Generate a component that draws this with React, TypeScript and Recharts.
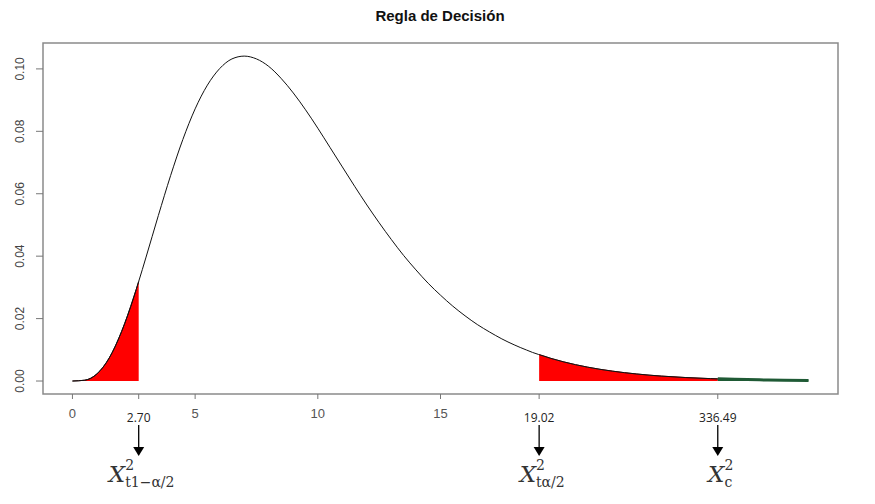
import React from "react";
import {
  ComposedChart,
  Area,
  Line,
  XAxis,
  YAxis,
  ReferenceArea,
} from "recharts";

// chi-square density
const xs = [
  0, 0.5, 1, 1.5, 2, 2.5, 2.7, 3, 3.5, 4, 4.5, 5, 5.5, 6, 6.5, 7, 7.5, 8, 8.5, 9,
  9.5, 10, 10.5, 11, 11.5, 12, 12.5, 13, 13.5, 14, 14.5, 15, 15.5, 16, 16.5, 17,
  17.5, 18, 18.5, 19, 19.02, 19.5, 20, 21, 22, 23, 24, 25, 26, 26.3, 27, 28, 29, 30,
];
const density = [
  0, 0.00026, 0.0023, 0.0074, 0.0158, 0.0269, 0.0319, 0.0397, 0.053, 0.0658,
  0.0774, 0.0872, 0.0948, 0.1001, 0.1032, 0.1041, 0.1032, 0.1008, 0.097, 0.0923,
  0.0869, 0.081, 0.0748, 0.0686, 0.0624, 0.0564, 0.0507, 0.0453, 0.0402, 0.0356,
  0.0313, 0.0275, 0.024, 0.0209, 0.0181, 0.0157, 0.0135, 0.0116, 0.00995, 0.0085,
  0.00846, 0.00725, 0.00617, 0.00444, 0.00317, 0.00225, 0.00158, 0.00111, 0.00077,
  0.00069, 0.00053, 0.00037, 0.00025, 0.00017,
];

const axisTicks = [0, 5, 10, 15];
const yTicks = [0, 0.02, 0.04, 0.06, 0.08, 0.1];
const criticalX = [2.7, 19.02, 26.3];
const criticalLabels = ["2.70", "19.02", "336.49"];
const criticalSubs = ["t1−α/2", "tα/2", "c"];

const X_DOMAIN: [number, number] = [-1.2, 31.2];
const Y_DOMAIN: [number, number] = [-0.00416, 0.1083];

const data = xs.map((x, i) => ({
  x,
  curve: x <= criticalX[2] ? density[i] : null,
  left: x <= criticalX[0] ? density[i] : null,
  right: x >= criticalX[1] && x <= criticalX[2] ? density[i] : null,
  green: x >= criticalX[2] ? density[i] : null,
}));

const allTicks = [...axisTicks, ...criticalX].sort((a, b) => a - b);

const renderXTick = (props: any) => {
  const { x, y, payload } = props;
  const ci = criticalX.indexOf(payload.value);
  if (ci < 0) {
    return (
      <text
        x={x}
        y={y + 17}
        textAnchor="middle"
        fontSize={13}
        fill="#555"
        fontFamily="Liberation Sans, Arial, sans-serif"
      >
        {payload.value}
      </text>
    );
  }
  return (
    <g>
      <text
        x={x}
        y={y + 21}
        textAnchor="middle"
        fontSize={12}
        fill="#222"
        fontFamily="Open Sans, sans-serif"
      >
        {criticalLabels[ci]}
      </text>
      <line x1={x} x2={x} y1={y + 24} y2={y + 47} stroke="#000" strokeWidth={1.3} />
      <polygon
        points={`${x - 5.5},${y + 46} ${x + 5.5},${y + 46} ${x},${y + 55}`}
        fill="#000"
      />
      <text
        x={x + 3}
        y={y + 81}
        textAnchor="middle"
        fill="#333"
        fontFamily="DejaVu Serif, serif"
      >
        <tspan fontStyle="italic" fontSize={23}>X</tspan>
        <tspan fontSize={14} dy={-12}>2</tspan>
        <tspan fontSize={14} dx={-9} dy={17}>{criticalSubs[ci]}</tspan>
      </text>
    </g>
  );
};

const renderYTick = (props: any) => {
  const { y, payload } = props;
  return (
    <text
      x={24}
      y={y}
      transform={`rotate(-90, 24, ${y})`}
      textAnchor="middle"
      fontSize={12}
      fill="#444"
      fontFamily="Liberation Sans, Arial, sans-serif"
    >
      {payload.value.toFixed(2)}
    </text>
  );
};

export default function App() {
  return (
    <div style={{ position: "absolute", left: 0, top: 0, width: 875, height: 504, background: "#fff" }}>
      <div
        style={{
          position: "absolute",
          top: 8,
          left: 0,
          width: 880,
          textAlign: "center",
          fontFamily: "Liberation Sans, Arial, sans-serif",
          fontWeight: "bold",
          fontSize: 15,
          lineHeight: "15px",
          color: "#111",
        }}
      >
        Regla de Decisión
      </div>
      <ComposedChart
        width={875}
        height={504}
        data={data}
        margin={{ top: 43, right: 37, left: 0, bottom: 0 }}
      >
        <XAxis
          dataKey="x"
          type="number"
          domain={X_DOMAIN}
          allowDataOverflow
          ticks={allTicks}
          interval={0}
          height={110}
          axisLine={false}
          tickSize={5}
          tickLine={{ stroke: "#777" }}
          tick={renderXTick}
        />
        <YAxis
          type="number"
          domain={Y_DOMAIN}
          allowDataOverflow
          ticks={yTicks}
          interval={0}
          width={43}
          axisLine={false}
          tickSize={7}
          tickLine={{ stroke: "#777" }}
          tick={renderYTick}
        />
        <Area
          dataKey="left"
          type="monotone"
          baseValue={0}
          fill="#ff0000"
          fillOpacity={1}
          stroke="#2a0000"
          strokeWidth={1}
          isAnimationActive={false}
        />
        <Area
          dataKey="right"
          type="monotone"
          baseValue={0}
          fill="#ff0000"
          fillOpacity={1}
          stroke="#8a1010"
          strokeWidth={1}
          isAnimationActive={false}
        />
        <Area
          dataKey="green"
          type="monotone"
          baseValue={0}
          fill="#1f5a35"
          fillOpacity={1}
          stroke="#1f5a35"
          strokeWidth={3}
          isAnimationActive={false}
        />
        <Line
          dataKey="curve"
          type="monotone"
          stroke="#111"
          strokeWidth={1}
          dot={false}
          isAnimationActive={false}
        />
        <ReferenceArea
          x1={X_DOMAIN[0]}
          x2={X_DOMAIN[1]}
          y1={Y_DOMAIN[0]}
          y2={Y_DOMAIN[1]}
          fill="none"
          stroke="#8a8a8a"
          strokeWidth={1.5}
          ifOverflow="visible"
        />
      </ComposedChart>
    </div>
  );
}
